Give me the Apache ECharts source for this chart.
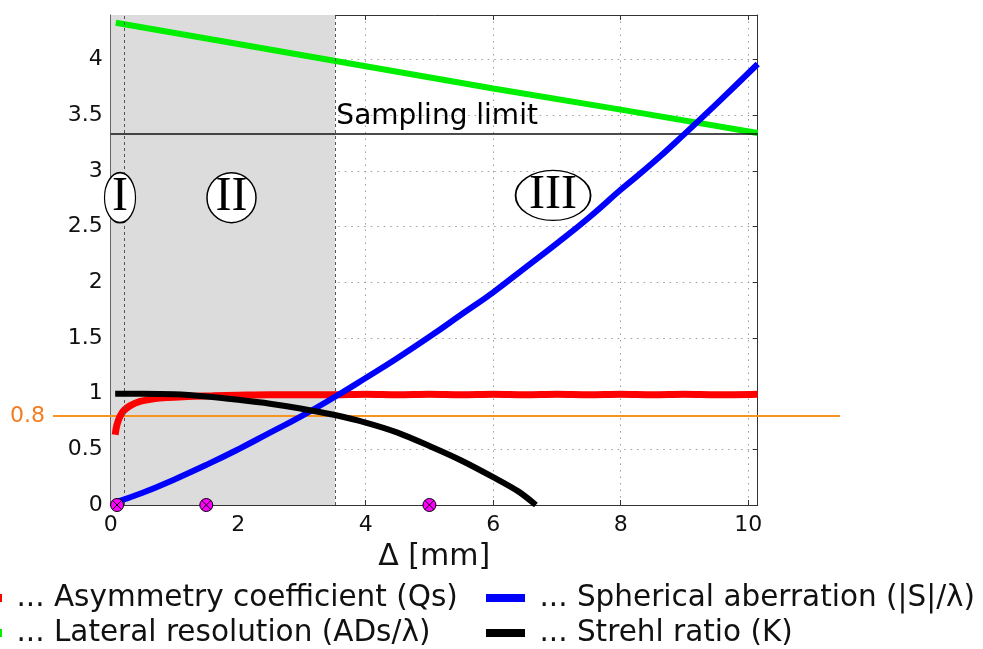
<!DOCTYPE html>
<html>
<head>
<meta charset="utf-8">
<script src="https://cdn.jsdelivr.net/npm/echarts@6/dist/echarts.min.js"></script>
<style>
  html, body { margin: 0; padding: 0; background: #ffffff; }
  #chart { width: 983px; height: 649px; }
</style>
</head>
<body>
<div id="chart"></div>
<script>
// Δ [mm] versus dimensionless figures of merit
const asymmetryQs = [
  [0.07, 0.63], [0.09, 0.70], [0.12, 0.76], [0.16, 0.81], [0.21, 0.85], [0.30, 0.89],
  [0.46, 0.93], [0.70, 0.955], [0.90, 0.965], [1.20, 0.975], [1.60, 0.98], [2.00, 0.985],
  [2.50, 0.99], [3.00, 0.99], [3.50, 0.99], [4.00, 0.995], [4.50, 0.99], [5.00, 0.995],
  [5.50, 0.99], [6.00, 0.995], [6.50, 0.99], [7.00, 0.995], [7.50, 0.99], [8.00, 0.995],
  [8.50, 0.99], [9.00, 0.995], [9.50, 0.99], [10.15, 0.995]
];
const lateralResolution = [
  [0.08, 4.33], [2.00, 4.14], [4.00, 3.94], [6.00, 3.74], [8.00, 3.55], [10.15, 3.34]
];
const sphericalAberration = [
  [0.05, 0.02], [0.50, 0.11], [1.00, 0.23], [1.50, 0.36], [2.00, 0.50], [2.50, 0.65],
  [3.00, 0.80], [3.50, 0.965], [4.00, 1.14], [4.50, 1.32], [5.00, 1.51], [5.50, 1.71],
  [6.00, 1.91], [6.50, 2.13], [7.00, 2.35], [7.50, 2.58], [8.00, 2.83], [8.50, 3.07],
  [9.00, 3.33], [9.50, 3.60], [10.15, 3.96]
];
const strehlRatio = [
  [0.07, 1.00], [0.50, 1.00], [1.00, 0.995], [1.50, 0.975], [2.00, 0.945], [2.50, 0.91],
  [3.00, 0.865], [3.50, 0.81], [4.00, 0.74], [4.50, 0.65], [5.00, 0.53], [5.50, 0.40],
  [6.00, 0.25], [6.40, 0.12], [6.67, 0.00]
];
const samplingLimit = 3.33;
const threshold = 0.8;
const regionBounds = [0.21, 3.52];
const markerPositions = [0.1, 1.5, 5.0];
const regionLabels = [
  { name: 'I', at: [0.146, 2.76], size: [31, 50] },
  { name: 'II', at: [1.895, 2.76], size: [49, 50] },
  { name: 'III', at: [6.94, 2.78], size: [75, 50] }
];
const xTickStep = 2;
const yTickStep = 0.5;

const chart = echarts.init(document.getElementById('chart'), null, { renderer: 'canvas' });

const FONT = 'DejaVu Sans';
const gridLine = { show: true, lineStyle: { color: '#9c9c9c', width: 1, type: [1.5, 5] } };
const frameLine = { show: true, onZero: false, lineStyle: { color: '#333333', width: 1 } };
const innerTick = { show: true, inside: true, length: 5, lineStyle: { color: '#333333', width: 1 } };

// one legend entry per slot: two columns, two rows
function legendSlot(name, left, top) {
  return {
    orient: 'horizontal', left: left, top: top, padding: 0,
    itemWidth: 39, itemHeight: 8, icon: 'rect', selectedMode: false,
    formatter: n => ' ... ' + n,
    textStyle: { fontFamily: FONT, fontSize: 29.5, color: '#111111' },
    data: [name]
  };
}

chart.setOption({
  animation: false,
  backgroundColor: '#ffffff',
  grid: { left: 110.7, top: 15, right: 225.3, bottom: 144, containLabel: false },
  legend: [
    legendSlot('Asymmetry coefficient (Qs)', -37, 583),
    legendSlot('Lateral resolution (ADs/λ)', -37, 618),
    legendSlot('Spherical aberration (|S|/λ)', 486, 583),
    legendSlot('Strehl ratio (K)', 486, 618)
  ],
  xAxis: [
    {
      type: 'value', min: 0, max: 10.15, interval: xTickStep, position: 'bottom',
      axisLine: frameLine, axisTick: innerTick, splitLine: gridLine,
      axisLabel: { showMaxLabel: false, fontFamily: FONT, fontSize: 22, color: '#111111', margin: 9 },
      name: 'Δ [mm]', nameLocation: 'middle', nameGap: 37,
      nameTextStyle: { fontFamily: FONT, fontSize: 30, color: '#111111' }
    },
    {
      type: 'value', min: 0, max: 10.15, interval: xTickStep, position: 'top',
      axisLine: frameLine, axisTick: innerTick, splitLine: { show: false }, axisLabel: { show: false }
    }
  ],
  yAxis: [
    {
      type: 'value', min: 0, max: 4.4, interval: yTickStep, position: 'left',
      axisLine: frameLine, axisTick: innerTick, splitLine: gridLine,
      axisLabel: { showMaxLabel: false, fontFamily: FONT, fontSize: 22, color: '#111111', margin: 8 }
    },
    {
      type: 'value', min: 0, max: 4.4, interval: yTickStep, position: 'right',
      axisLine: frameLine, axisTick: innerTick, splitLine: { show: false }, axisLabel: { show: false }
    }
  ],
  series: [
    {
      // shaded region II
      type: 'line', name: 'regions', data: [], z: -1, silent: true,
      markArea: {
        silent: true,
        itemStyle: { color: '#dcdcdc' },
        data: [[{ xAxis: 0 }, { xAxis: regionBounds[1] }]]
      }
    },
    {
      // dashed region boundaries
      type: 'line', name: 'boundaries', data: [], z: 1, silent: true,
      markLine: {
        silent: true, symbol: 'none', label: { show: false },
        lineStyle: { color: '#555555', width: 1, type: [3, 3] },
        data: regionBounds.map(v => ({ xAxis: v }))
      }
    },
    {
      type: 'line', name: 'sampling', data: [], z: 3, silent: true,
      markLine: {
        silent: true, symbol: 'none', label: { show: false },
        lineStyle: { color: '#111111', width: 1.5, type: 'solid' },
        data: [{ yAxis: samplingLimit }]
      }
    },
    {
      type: 'line', name: 'Asymmetry coefficient (Qs)', data: asymmetryQs, smooth: 0.3,
      showSymbol: false, color: '#ff0000', lineStyle: { width: 7, color: '#ff0000' }, z: 4
    },
    {
      type: 'line', name: 'Lateral resolution (ADs/λ)', data: lateralResolution,
      showSymbol: false, color: '#00ee00', lineStyle: { width: 6, color: '#00ee00' }, z: 4
    },
    {
      type: 'line', name: 'Spherical aberration (|S|/λ)', data: sphericalAberration, smooth: true,
      showSymbol: false, color: '#0000ff', lineStyle: { width: 6, color: '#0000ff' }, z: 5
    },
    {
      type: 'line', name: 'Strehl ratio (K)', data: strehlRatio, smooth: 0.3,
      showSymbol: false, color: '#000000', lineStyle: { width: 6, color: '#000000' }, z: 6
    },
    {
      // "Sampling limit" caption above the horizontal line
      type: 'scatter', name: 'samplingCaption', silent: true, symbolSize: 0, z: 7,
      itemStyle: { opacity: 1 },
      data: [{ value: [regionBounds[1] + 0.02, samplingLimit], name: 'Sampling limit' }],
      label: {
        show: true, position: 'right', distance: 0, offset: [0, -17], formatter: '{b}',
        fontFamily: FONT, fontSize: 28, color: '#000000', opacity: 1
      }
    },
    {
      // roman numerals in ellipses
      type: 'scatter', name: 'regionLabels', silent: true, z: 8, symbol: 'circle',
      data: regionLabels.map(r => ({ value: r.at, name: r.name, symbolSize: r.size })),
      itemStyle: { color: '#ffffff', borderColor: '#000000', borderWidth: 1.5, opacity: 1 },
      label: {
        show: true, position: 'inside', formatter: '{b}',
        fontFamily: 'Liberation Serif', fontSize: 48, color: '#000000'
      }
    },
    {
      // crossed circle markers on the Δ axis
      type: 'custom', name: 'markers', silent: true, z: 10, clip: false,
      data: markerPositions.map(x => [x, 0]),
      renderItem: (params, api) => {
        const p = api.coord([api.value(0), api.value(1)]);
        const r = 6.5, d = r * 0.707;
        return {
          type: 'group',
          children: [
            { type: 'circle', shape: { cx: p[0], cy: p[1], r: r }, style: { fill: '#ff00ff', stroke: '#000000', lineWidth: 1 } },
            { type: 'line', shape: { x1: p[0] - d, y1: p[1] - d, x2: p[0] + d, y2: p[1] + d }, style: { stroke: '#000000', lineWidth: 1 } },
            { type: 'line', shape: { x1: p[0] - d, y1: p[1] + d, x2: p[0] + d, y2: p[1] - d }, style: { stroke: '#000000', lineWidth: 1 } }
          ]
        };
      }
    }
  ]
});

// orange 0.8 reference line that runs past the plot frame
const y08 = chart.convertToPixel({ yAxisIndex: 0 }, threshold);
chart.setOption({
  graphic: [
    { type: 'line', z: 1, silent: true, shape: { x1: 53, y1: y08, x2: 840, y2: y08 }, style: { stroke: '#f7931e', lineWidth: 2 } },
    { type: 'text', z: 1, silent: true, style: { text: String(threshold), x: 45, y: y08, align: 'right', verticalAlign: 'middle', fill: '#f47c20', font: '22px "DejaVu Sans"' } }
  ]
});
</script>
</body>
</html>
